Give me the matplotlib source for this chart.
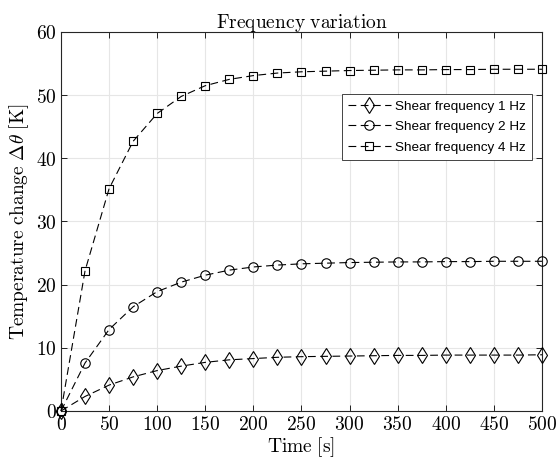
import numpy as np
import matplotlib
matplotlib.use("Agg")
from matplotlib import pyplot as plt
from matplotlib.ticker import FuncFormatter

# time samples [s]
time_s = [0, 25, 50, 75, 100, 125, 150, 175, 200, 225, 250, 275, 300,
          325, 350, 375, 400, 425, 450, 475, 500]

# temperature change [K] per shear frequency
dT_1hz = [0, 2.3, 4.1, 5.4, 6.4, 7.1, 7.7, 8.1, 8.3, 8.5, 8.6, 8.65, 8.7,
          8.75, 8.8, 8.8, 8.85, 8.85, 8.85, 8.85, 8.9]
dT_2hz = [0, 7.6, 12.9, 16.5, 18.9, 20.4, 21.5, 22.3, 22.8, 23.1, 23.3, 23.4, 23.5,
          23.55, 23.6, 23.6, 23.65, 23.65, 23.7, 23.7, 23.7]
dT_4hz = [0, 22.2, 35.2, 42.7, 47.1, 49.8, 51.5, 52.5, 53.1, 53.5, 53.7, 53.8, 53.9,
          53.95, 54.0, 54.0, 54.05, 54.05, 54.1, 54.1, 54.1]

labels = ['Shear frequency 1 Hz', 'Shear frequency 2 Hz', 'Shear frequency 4 Hz']
markers = ['d', 'o', 's']
msizes = [8.5, 6.8, 5.8]

plt.rcParams['mathtext.fontset'] = 'cm'

fig = plt.figure(figsize=(5.56, 4.59), dpi=100)
ax = fig.add_axes([0.1097, 0.1046, 0.8651, 0.8257])

for y, lab, m, ms in zip([dT_1hz, dT_2hz, dT_4hz], labels, markers, msizes):
    ax.plot(time_s, y, linestyle=(0, (7, 4)), color='black', linewidth=0.8,
            marker=m, markersize=ms, markerfacecolor='none',
            markeredgecolor='black', markeredgewidth=0.8, label=lab, clip_on=False,
            zorder=3)

ax.set_xlim(0, 500)
ax.set_ylim(0, 60)
ax.set_xticks(np.arange(0, 501, 50))
ax.set_yticks(np.arange(0, 61, 10))
fmt = FuncFormatter(lambda v, p: r'$\mathrm{%d}$' % v)
ax.xaxis.set_major_formatter(fmt)
ax.yaxis.set_major_formatter(fmt)
ax.tick_params(direction='in', top=True, right=True, labelsize=14, length=4,
               width=0.6, pad=3)
ax.grid(True, color='#e6e6e6', linewidth=0.8)
ax.set_axisbelow(True)
for s in ax.spines.values():
    s.set_linewidth(0.8)
    s.set_color('#262626')

ax.set_xlabel(r'$\mathrm{Time\ [s]}$', fontsize=14, labelpad=1)
ax.set_ylabel(r'$\mathrm{Temperature\ change}\ \Delta\theta\ \mathrm{[K]}$', fontsize=14, labelpad=4)
ax.set_title(r'$\mathrm{Frequency\ variation}$', fontsize=14, pad=3)

leg = ax.legend(loc='upper right', bbox_to_anchor=(0.979, 0.836), fancybox=False,
                framealpha=1, edgecolor='#262626', handlelength=3.2,
                prop={'family': 'Liberation Sans', 'size': 9.7},
                borderpad=0.45, labelspacing=0.6, handletextpad=0.3,
                borderaxespad=0)
leg.get_frame().set_linewidth(0.6)

fig.savefig('out.png', dpi=100)
